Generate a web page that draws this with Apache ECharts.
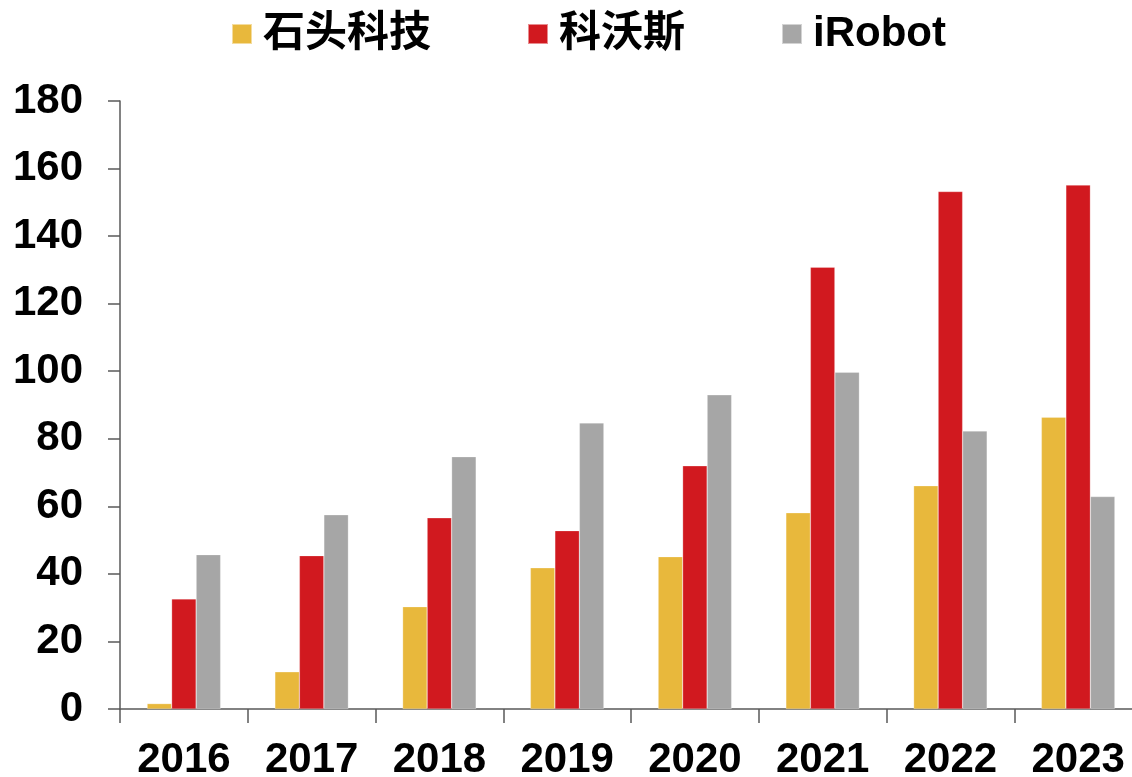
<!DOCTYPE html>
<html>
<head>
<meta charset="utf-8">
<script src="https://cdn.jsdelivr.net/npm/echarts@6/dist/echarts.min.js"></script>
<style>
    html, body { margin: 0; padding: 0; background: #fff; }
    #chart { width: 1132px; height: 777px; }
</style>
</head>
<body>
<div id="chart"></div>
<script>
var years = ['2016', '2017', '2018', '2019', '2020', '2021', '2022', '2023'];
var seriesNames = ['石头科技', '科沃斯', 'iRobot'];
var roborock = [1.6, 11.0, 30.3, 41.8, 45.1, 58.1, 66.1, 86.4];
var ecovacs = [32.6, 45.4, 56.6, 52.8, 72.0, 130.8, 153.2, 155.1];
var irobot = [45.7, 57.5, 74.7, 84.7, 93.0, 99.7, 82.3, 62.9];
var yTicks = { min: 0, max: 180, interval: 20 };

var colors = ['#E8B83C', '#D1191F', '#A6A6A6'];
var FONT = '"Liberation Sans", "Noto Sans CJK SC", sans-serif';
var axisColor = '#595959';

var chart = echarts.init(document.getElementById('chart'));

function bar(name, data, idx) {
    return {
        name: name,
        type: 'bar',
        data: data,
        barWidth: 24.5,
        barGap: '0%',
        itemStyle: { color: colors[idx], borderColor: 'rgba(255,255,255,0.5)', borderWidth: 0.5 }
    };
}

chart.setOption({
    animation: false,
    color: colors,
    textStyle: { fontFamily: FONT },
    legend: {
        top: 8,
        left: 226,
        itemWidth: 20,
        itemHeight: 20,
        itemGap: 96,
        icon: 'rect',
        textStyle: { fontSize: 42, fontWeight: 'bold', color: '#000', fontFamily: FONT, padding: [0, 0, 0, 6] },
        data: seriesNames
    },
    // labels spill past the bottom edge, keep the grid where it is
    grid: { left: 120, top: 101, width: 1022, height: 608, containLabel: false, outerBoundsMode: 'none' },
    xAxis: {
        type: 'category',
        data: years,
        boundaryGap: true,
        axisLine: { lineStyle: { color: axisColor, width: 1.5 } },
        axisTick: { show: true, length: 14, alignWithLabel: false, lineStyle: { color: axisColor, width: 1.5 } },
        axisLabel: { fontSize: 42, fontWeight: 'bold', color: '#000', margin: 30, fontFamily: FONT }
    },
    yAxis: {
        type: 'value',
        min: yTicks.min,
        max: yTicks.max,
        interval: yTicks.interval,
        splitLine: { show: false },
        axisLine: { show: true, lineStyle: { color: axisColor, width: 1.5 } },
        axisTick: { show: true, length: 12, lineStyle: { color: axisColor, width: 1.5 } },
        axisLabel: { fontSize: 42, fontWeight: 'bold', color: '#000', margin: 37, fontFamily: FONT }
    },
    series: [
        bar(seriesNames[0], roborock, 0),
        bar(seriesNames[1], ecovacs, 1),
        bar(seriesNames[2], irobot, 2)
    ]
});
</script>
</body>
</html>
